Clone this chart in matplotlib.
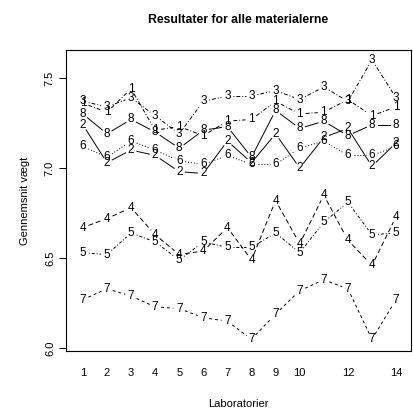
import numpy as np
import matplotlib
matplotlib.use("Agg")
import matplotlib.pyplot as plt

plt.rcParams['font.family'] = ['Liberation Sans', 'DejaVu Sans']

labs = np.arange(1, 15)

# gennemsnit pr. laboratorium for hvert materiale (aflaest fra figuren)
mat1 = [7.36, 7.31, 7.44, 7.21, 7.23, 7.18, 7.26, 7.27, 7.37, 7.30, 7.31, 7.38, 7.29, 7.34]
mat2 = [7.24, 7.03, 7.10, 7.07, 6.98, 6.97, 7.15, 7.03, 7.19, 7.00, 7.17, 7.22, 7.01, 7.14]
mat3 = [7.37, 7.34, 7.39, 7.29, 7.19, 7.37, 7.40, 7.40, 7.43, 7.38, 7.45, 7.37, 7.60, 7.39]
mat4 = [6.67, 6.72, 6.78, 6.63, 6.52, 6.54, 6.67, 6.49, 6.82, 6.58, 6.85, 6.60, 6.46, 6.73]
mat5 = [6.53, 6.52, 6.64, 6.59, 6.49, 6.59, 6.56, 6.56, 6.64, 6.53, 6.70, 6.81, 6.63, 6.64]
mat6 = [7.12, 7.06, 7.15, 7.10, 7.04, 7.02, 7.07, 7.02, 7.02, 7.11, 7.15, 7.07, 7.07, 7.12]
mat7 = [6.27, 6.33, 6.29, 6.23, 6.22, 6.17, 6.15, 6.05, 6.19, 6.32, 6.38, 6.33, 6.05, 6.27]
mat8 = [7.30, 7.19, 7.27, 7.20, 7.11, 7.21, 7.23, 7.06, 7.32, 7.22, 7.26, 7.18, 7.24, 7.24]

series = [mat1, mat2, mat3, mat4, mat5, mat6, mat7, mat8]
styles = [(0, (4, 2, 1, 2)), '-', (0, (1, 2, 4, 2)), (0, (5, 3)),
          (0, (1, 2, 3, 2)), (0, (1, 2)), (0, (3, 3)), '-']
xticks = [1, 2, 3, 4, 5, 6, 7, 8, 9, 10, 12, 14]

fig = plt.figure(figsize=(4.13, 4.11), dpi=100)
W, H = 413, 411
ax = fig.add_axes([66 / W, (H - 351) / H, (411 - 66) / W, (351 - 50) / H])
ax.set_xlim(0.3, 14.62)
ax.set_ylim(5.985, 7.655)

gap = 6.0  # pixel gap around symbols, like type="b"
for k, (vals, ls) in enumerate(zip(series, styles)):
    pts = ax.transData.transform(np.column_stack([labs, vals]))
    for i in range(len(pts) - 1):
        p, q = pts[i], pts[i + 1]
        d = q - p
        L = np.hypot(*d)
        if L <= 2 * gap:
            continue
        u = d / L
        seg = ax.transData.inverted().transform([p + u * gap, q - u * gap])
        ax.plot(seg[:, 0], seg[:, 1], color='black', lw=0.7, linestyle=ls)
    for x, y in zip(labs, vals):
        ax.text(x, y, str(k + 1), ha='center', va='center', fontsize=8.5)

for s in ax.spines.values():
    s.set_linewidth(0.8)

ax.set_yticks([6.0, 6.5, 7.0, 7.5])
ax.set_yticklabels(['6.0', '6.5', '7.0', '7.5'], rotation=90, va='center', fontsize=8)
ax.tick_params(axis='y', length=5, width=0.7, pad=3)
ax.set_xticks(xticks)
ax.set_xticklabels([str(v) for v in xticks], fontsize=8)
ax.tick_params(axis='x', length=0, pad=12)

ax.set_xlabel('Laboratorier', fontsize=8, labelpad=15)
ax.set_ylabel('Gennemsnit vægt', fontsize=8, labelpad=11)
fig.text(238 / W, 1 - 20 / H, 'Resultater for alle materialerne',
         ha='center', va='center', fontsize=8.8, fontweight='bold')

fig.savefig('out.png', dpi=100)
